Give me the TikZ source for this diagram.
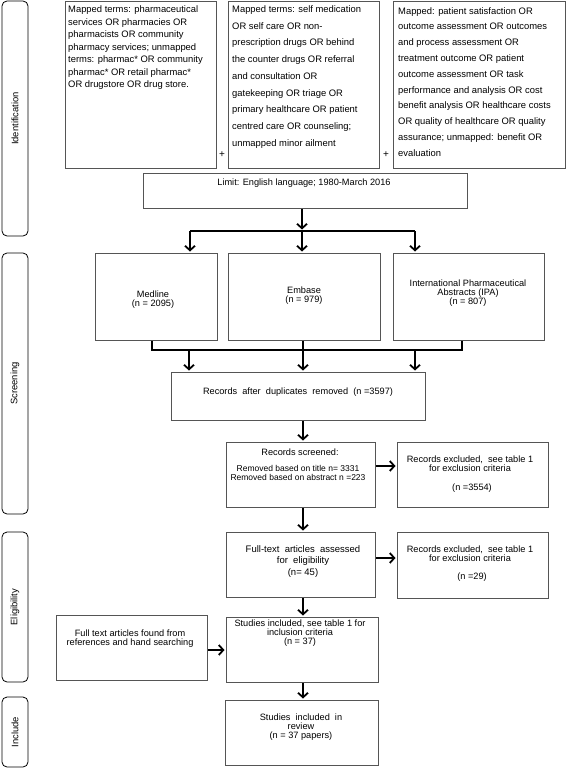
\documentclass[tikz,border=0pt]{standalone}
\usepackage{fontspec}
\setmainfont{Liberation Sans}
\usetikzlibrary{arrows.meta,calc}
\definecolor{boxgray}{RGB}{85,85,85}
\begin{document}
\begin{tikzpicture}[x=1pt,y=-1pt,
  stage/.style={draw=black, line width=0.8pt, rounded corners=5pt, rotate=90, inner sep=0pt, minimum height=26pt, font=\fontsize{9.4}{10}\selectfont},
  box/.style={draw=boxgray, line width=1.3pt, anchor=north west, inner sep=0pt},
  arr/.style={line width=1.8pt, -{Straight Barb[length=4.5pt,width=10pt]}, shorten >=1.5pt},
  ln/.style={line width=1.8pt},
  stxt/.style={anchor=north west, align=left, inner sep=0pt},
  txt/.style={align=center, inner sep=0pt, font=\fontsize{9.2}{9}\selectfont}
]
\useasboundingbox (0,0) rectangle (567,776);

% stage labels
\node[stage, minimum width=235pt] (sid) at (15,118.5) {Identification};
\node[stage, minimum width=261pt] (sscr) at (15,383.5) {Screening};
\node[stage, minimum width=150pt] (selig) at (15,607) {Eligibility};
\node[stage, minimum width=70pt] (sinc) at (15,732) {Include};

% search boxes
\node[box, minimum width=151pt, minimum height=167pt] (s1) at (65,1) {};
\node[stxt, font=\fontsize{9.4}{12.5}\selectfont] (s1t) at (68,5.5) {Mapped terms: pharmaceutical\\services OR pharmacies OR\\pharmacists OR community\\pharmacy services; unmapped\\terms: pharmac* OR community\\pharmac* OR retail pharmac*\\OR drugstore OR drug store.};
\node[box, minimum width=151pt, minimum height=167pt] (s2) at (228,1) {};
\node[stxt, font=\fontsize{9.4}{16.7}\selectfont] (s2t) at (232,5.5) {Mapped terms: self medication\\OR self care OR non-\\prescription drugs OR behind\\the counter drugs OR referral\\and consultation OR\\gatekeeping OR triage OR\\primary healthcare OR patient\\centred care OR counseling;\\unmapped minor ailment};
\node[box, minimum width=172pt, minimum height=167pt] (s3) at (393,1) {};
\node[stxt, font=\fontsize{9.4}{15.8}\selectfont] (s3t) at (398,7) {Mapped: patient satisfaction OR\\outcome assessment OR outcomes\\and process assessment OR\\treatment outcome OR patient\\outcome assessment OR task\\performance and analysis OR cost\\benefit analysis OR healthcare costs\\OR quality of healthcare OR quality\\assurance; unmapped: benefit OR\\evaluation};
\node[font=\fontsize{10}{10}\selectfont, inner sep=0pt] (p1) at (222,155) {+};
\node[font=\fontsize{10}{10}\selectfont, inner sep=0pt] (p2) at (386,155) {+};

% limit
\node[box, minimum width=324pt, minimum height=35pt] (lim) at (143,173) {};
\node[txt] (limt) at (304,183) {Limit: English language; 1980-March 2016};

% databases
\node[box, minimum width=122pt, minimum height=87pt] (med) at (95,253) {};
\node[txt] (medt) at (153,300) {Medline\\(n = 2095)};
\node[box, minimum width=152pt, minimum height=87pt] (emb) at (228,253) {};
\node[txt] (embt) at (304,296) {Embase\\(n = 979)};
\node[box, minimum width=151pt, minimum height=87pt] (ipa) at (393,253) {};
\node[txt] (ipat) at (468,293) {International Pharmaceutical\\Abstracts (IPA)\\(n = 807)};

% branch coordinates
\coordinate (b0) at (302,231);
\coordinate (bL) at (190,231);
\coordinate (bR) at (415,231);
\draw[arr] (lim.south -| b0) -- (b0);
\draw[ln] (bL) -- (bR);
\draw[arr] (bL) -- (bL |- med.north);
\draw[arr] (b0) -- (b0 |- emb.north);
\draw[arr] (bR) -- (bR |- ipa.north);

% merge
\coordinate (m1) at (152,350);
\coordinate (m2) at (303,350);
\coordinate (m3) at (462,350);
\coordinate (a1) at (189,350);
\coordinate (a3) at (415,350);
\draw[ln] (med.south -| m1) -- (m1) -- (m3) -- (ipa.south -| m3);
\draw[ln] (emb.south -| m2) -- (m2);

% records after duplicates
\node[box, minimum width=254pt, minimum height=48pt] (rec) at (171,372) {};
\node[txt] (rect) at (298,392) {Records\ \ after\ \ duplicates\ \ removed\ \ (n =3597)};
\draw[arr] (a1) -- (a1 |- rec.north);
\draw[arr] (m2) -- (m2 |- rec.north);
\draw[arr] (a3) -- (a3 |- rec.north);

\coordinate (cx) at (303,0);

% screened
\node[box, minimum width=149pt, minimum height=65pt] (scr) at (226,442) {};
\node[txt] (scrt1) at (300,452) {Records screened:};
\node[txt, font=\fontsize{8.5}{9}\selectfont] (scrt2) at (298,472.5) {Removed based on title n= 3331\\Removed based on abstract n =223};
\node[box, minimum width=151pt, minimum height=65pt] (ex1) at (397,442) {};
\node[txt] (ex1t) at (470,464) {Records excluded,\ \ see table 1\\for exclusion criteria};
\node[txt] (ex1n) at (472,488) {(n =3554)};
\coordinate (ya) at (0,466);
\draw[arr] (rec.south -| cx) -- (scr.north -| cx);
\draw[arr] (scr.east |- ya) -- (ex1.west |- ya);

% full text
\node[box, minimum width=149pt, minimum height=65pt] (ft) at (226,532) {};
\node[txt, font=\fontsize{9.5}{11.5}\selectfont] (ftt) at (303,561.5) {Full-text\ \ articles\ \ assessed\\for\ \ eligibility\\(n= 45)};
\node[box, minimum width=151pt, minimum height=66pt] (ex2) at (397,532) {};
\node[txt] (ex2t) at (470,554) {Records excluded,\ \ see table 1\\for exclusion criteria};
\node[txt] (ex2n) at (472,577) {(n =29)};
\coordinate (yb) at (0,558);
\draw[arr] (scr.south -| cx) -- (ft.north -| cx);
\draw[arr] (ft.east |- yb) -- (ex2.west |- yb);

% studies included
\node[box, minimum width=152pt, minimum height=65pt] (inc) at (226,617) {};
\node[txt] (inct) at (300,633.5) {Studies\ included, see table 1 for\\inclusion criteria\\(n = 37)};
\node[box, minimum width=151pt, minimum height=65pt] (fnd) at (56,615) {};
\node[txt] (fndt) at (130,639) {Full text articles found from\\references and hand searching};
\coordinate (yc) at (0,650);
\draw[arr] (ft.south -| cx) -- (inc.north -| cx);
\draw[arr] (fnd.east |- yc) -- (inc.west |- yc);

% review
\node[box, minimum width=153pt, minimum height=65pt] (rev) at (225,700) {};
\node[txt] (revt) at (301,727.5) {Studies\ \ included\ \ in\\review\\(n = 37 papers)};
\draw[arr] (inc.south -| cx) -- (rev.north -| cx);
\end{tikzpicture}
\end{document}
